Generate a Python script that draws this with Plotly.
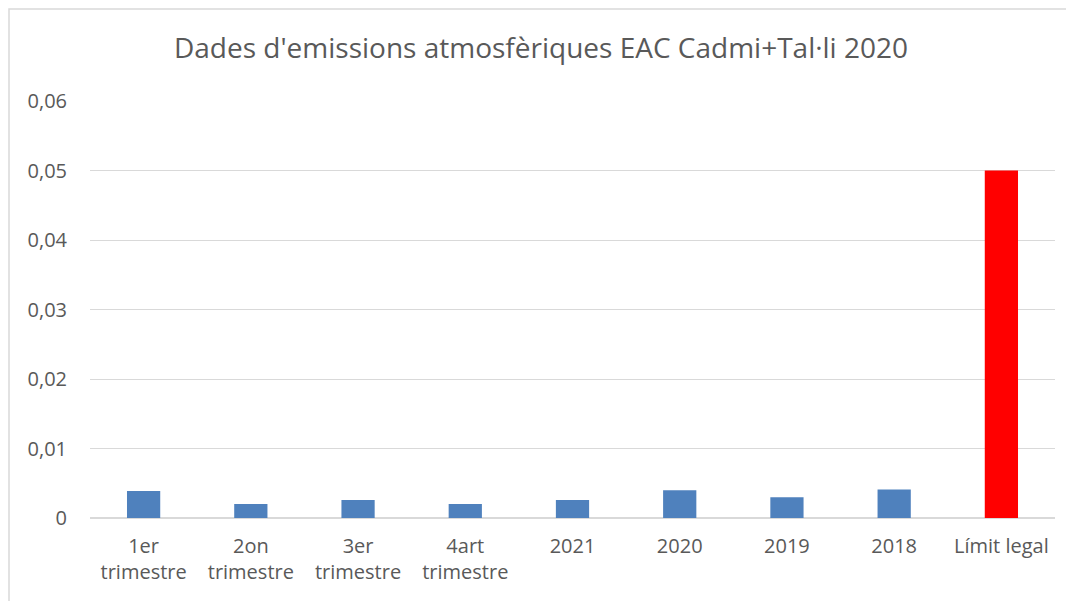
import plotly.graph_objects as go

categories = ["1er<br>trimestre", "2on<br>trimestre", "3er<br>trimestre", "4art<br>trimestre",
              "2021", "2020", "2019", "2018", "Límit legal"]
values = [0.0039, 0.0020, 0.0026, 0.0020, 0.0026, 0.0040, 0.0030, 0.0041, 0.05]
bar_colors = ["#4f81bd"] * 8 + ["#ff0000"]

y_ticks = [0, 0.01, 0.02, 0.03, 0.04, 0.05, 0.06]
y_labels = ["0", "0,01", "0,02", "0,03", "0,04", "0,05", "0,06"]

# page body has an 8px default margin, so the figure is a bit smaller than the window
fig = go.Figure()
fig.add_trace(go.Bar(
    x=categories,
    y=values,
    marker=dict(color=bar_colors, line=dict(width=0)),
    width=0.31,
    hovertemplate='%{x}: %{y}<extra></extra>'
))

fig.update_layout(
    width=1066,
    height=593,
    margin=dict(l=82, r=19, t=93, b=83, autoexpand=False),
    paper_bgcolor="white",
    plot_bgcolor="white",
    font=dict(family="Open Sans, sans-serif", color="#595959", size=20),
    title=dict(
        text="Dades d'emissions atmosfèriques EAC Cadmi+Tal·li 2020",
        x=0.5, xanchor="center", y=1 - 40 / 593, yanchor="middle",
        font=dict(size=28, color="#595959")
    ),
    showlegend=False,
    xaxis=dict(showgrid=False, showline=False, ticks="", automargin=False,
               ticklabelstandoff=14, tickfont=dict(size=20)),
    yaxis=dict(
        range=[0, 0.06],
        tickvals=y_ticks,
        ticktext=y_labels,
        showgrid=True,
        gridcolor="#d9d9d9",
        gridwidth=1,
        zeroline=True,
        zerolinecolor="#d9d9d9",
        zerolinewidth=2,
        showline=False,
        ticks="",
        automargin=False,
        ticklabelstandoff=22,
        tickfont=dict(size=20),
    ),
    shapes=[dict(
        type="rect", xref="paper", yref="paper",
        x0=-81 / 965, x1=1.0 + 40 / 965, y0=-120 / 417, y1=1.0 + 92 / 417,
        line=dict(color="#d9d9d9", width=1.5), fillcolor="rgba(0,0,0,0)", layer="below"
    )],
)

fig.write_html("out.html")
